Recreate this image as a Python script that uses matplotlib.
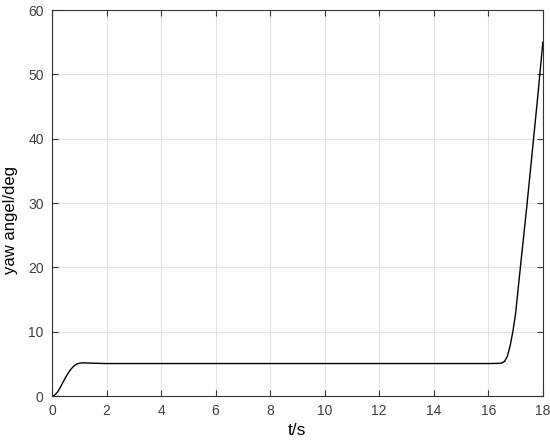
import matplotlib
matplotlib.use('Agg')
import matplotlib.pyplot as plt

# 時間 (s) 與偏航角 (deg)
t_vals = [0.0, 0.05, 0.1, 0.2, 0.3, 0.4, 0.5, 0.6, 0.7, 0.8, 0.9, 1.0, 1.1,
          1.2, 1.4, 1.7, 2.0, 4.0, 6.0, 8.0, 10.0, 12.0, 14.0, 16.0, 16.4,
          16.5, 16.6, 16.7, 16.8, 16.9, 17.0, 17.2, 17.4, 17.6, 17.8, 18.0]
yaw_vals = [0.0, 0.0, 0.15, 0.6, 1.3, 2.1, 2.9, 3.6, 4.2, 4.65, 4.95, 5.1,
            5.15, 5.15, 5.12, 5.08, 5.05, 5.05, 5.05, 5.05, 5.05, 5.05,
            5.05, 5.05, 5.08, 5.15, 5.4, 6.2, 7.8, 10.0, 12.8, 21.0, 29.0,
            37.5, 46.0, 55.0]

x_ticks = list(range(0, 19, 2))
y_ticks = list(range(0, 61, 10))

plt.rcParams['font.family'] = ['Liberation Sans', 'DejaVu Sans']

fig = plt.figure(figsize=(5.5, 4.41), dpi=100)
ax = fig.add_axes([0.0945, 0.102, 0.8925, 0.875])

ax.plot(t_vals, yaw_vals, color='black', linewidth=1.0)

ax.set_xlim(0, 18)
ax.set_ylim(0, 60)
ax.set_xticks(x_ticks)
ax.set_yticks(y_ticks)
ax.grid(True, color='#e3e3e3', linewidth=0.8)
ax.set_axisbelow(True)

ax.tick_params(direction='in', top=True, right=True, length=4,
               width=0.8, colors='#333333', labelsize=10,
               labelcolor='#404040', pad=6)
for s in ax.spines.values():
    s.set_color('#333333')
    s.set_linewidth(0.8)

ax.set_xlabel('t/s', fontsize=12.5, color='black')
ax.set_ylabel('yaw angel/deg', fontsize=12, color='black')
ax.xaxis.set_label_coords(0.5, -0.07)
ax.yaxis.set_label_coords(-0.07, 0.456)

fig.savefig('out.png', dpi=100)
